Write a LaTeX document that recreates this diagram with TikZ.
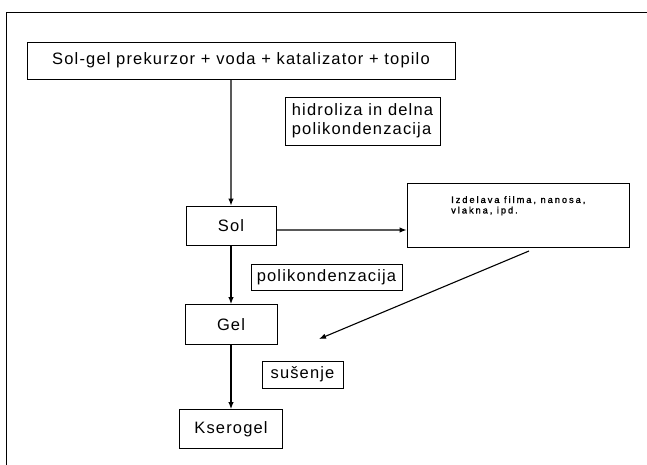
\documentclass[tikz,border=0pt]{standalone}
\usepackage{fontspec}
\setmainfont{Liberation Sans}[LetterSpace=7]
\newfontfamily\smallfont{Liberation Sans}[LetterSpace=21,FakeBold=1.5]
\usetikzlibrary{arrows.meta}
\begin{document}
\begin{tikzpicture}[x=1bp,y=-1bp,
  box/.style={draw=black,line width=0.9bp,inner sep=0pt,font=\fontsize{16.5bp}{19bp}\selectfont},
  arr/.style={draw=black,line width=1.1bp,-{Latex[length=7bp,width=5.5bp]}}]
\useasboundingbox (0,0) rectangle (647,465);
% frame
\draw[line width=0.9bp] (647,12) -- (6,12) -- (6,465);
% nodes
\node[box,minimum width=428bp,minimum height=37bp] (top) at (241,60.5) {Sol-gel prekurzor + voda + katalizator + topilo};
\node[box,minimum width=155bp,minimum height=48bp,align=left] (hid) at (362.5,121) {hidroliza in delna\\polikondenzacija};
\node[box,minimum width=90bp,minimum height=39bp] (sol) at (231,225.5) {Sol};
\node[box,minimum width=222bp,minimum height=64bp] (izd) at (518,215) {};
\node[anchor=north west,inner sep=0pt,align=left,font=\smallfont\fontsize{9.3bp}{10.5bp}\selectfont] (izdt) at (451,196) {Izdelava filma, nanosa,\\vlakna, ipd.};
\node[box,minimum width=151bp,minimum height=26bp] (pol) at (326.5,277) {polikondenzacija};
\node[box,minimum width=92bp,minimum height=40bp] (gel) at (231,324.5) {Gel};
\node[box,minimum width=81bp,minimum height=27bp] (sus) at (302.5,374.5) {sušenje};
\node[box,minimum width=103bp,minimum height=39bp] (kse) at (231,429) {Kserogel};
\coordinate (d1) at (529,251);
\coordinate (d2) at (319,339);
% connectors
\draw[arr] ([xshift=-10bp]top.south) -- (sol.north);
\draw[arr] ([yshift=-4.5bp]sol.east) -- ([yshift=-15bp]izd.west);
\draw[arr] (sol.south) -- (gel.north);
\draw[arr] (gel.south) -- (kse.north);
\draw[arr] (d1) -- (d2);
\end{tikzpicture}
\end{document}
